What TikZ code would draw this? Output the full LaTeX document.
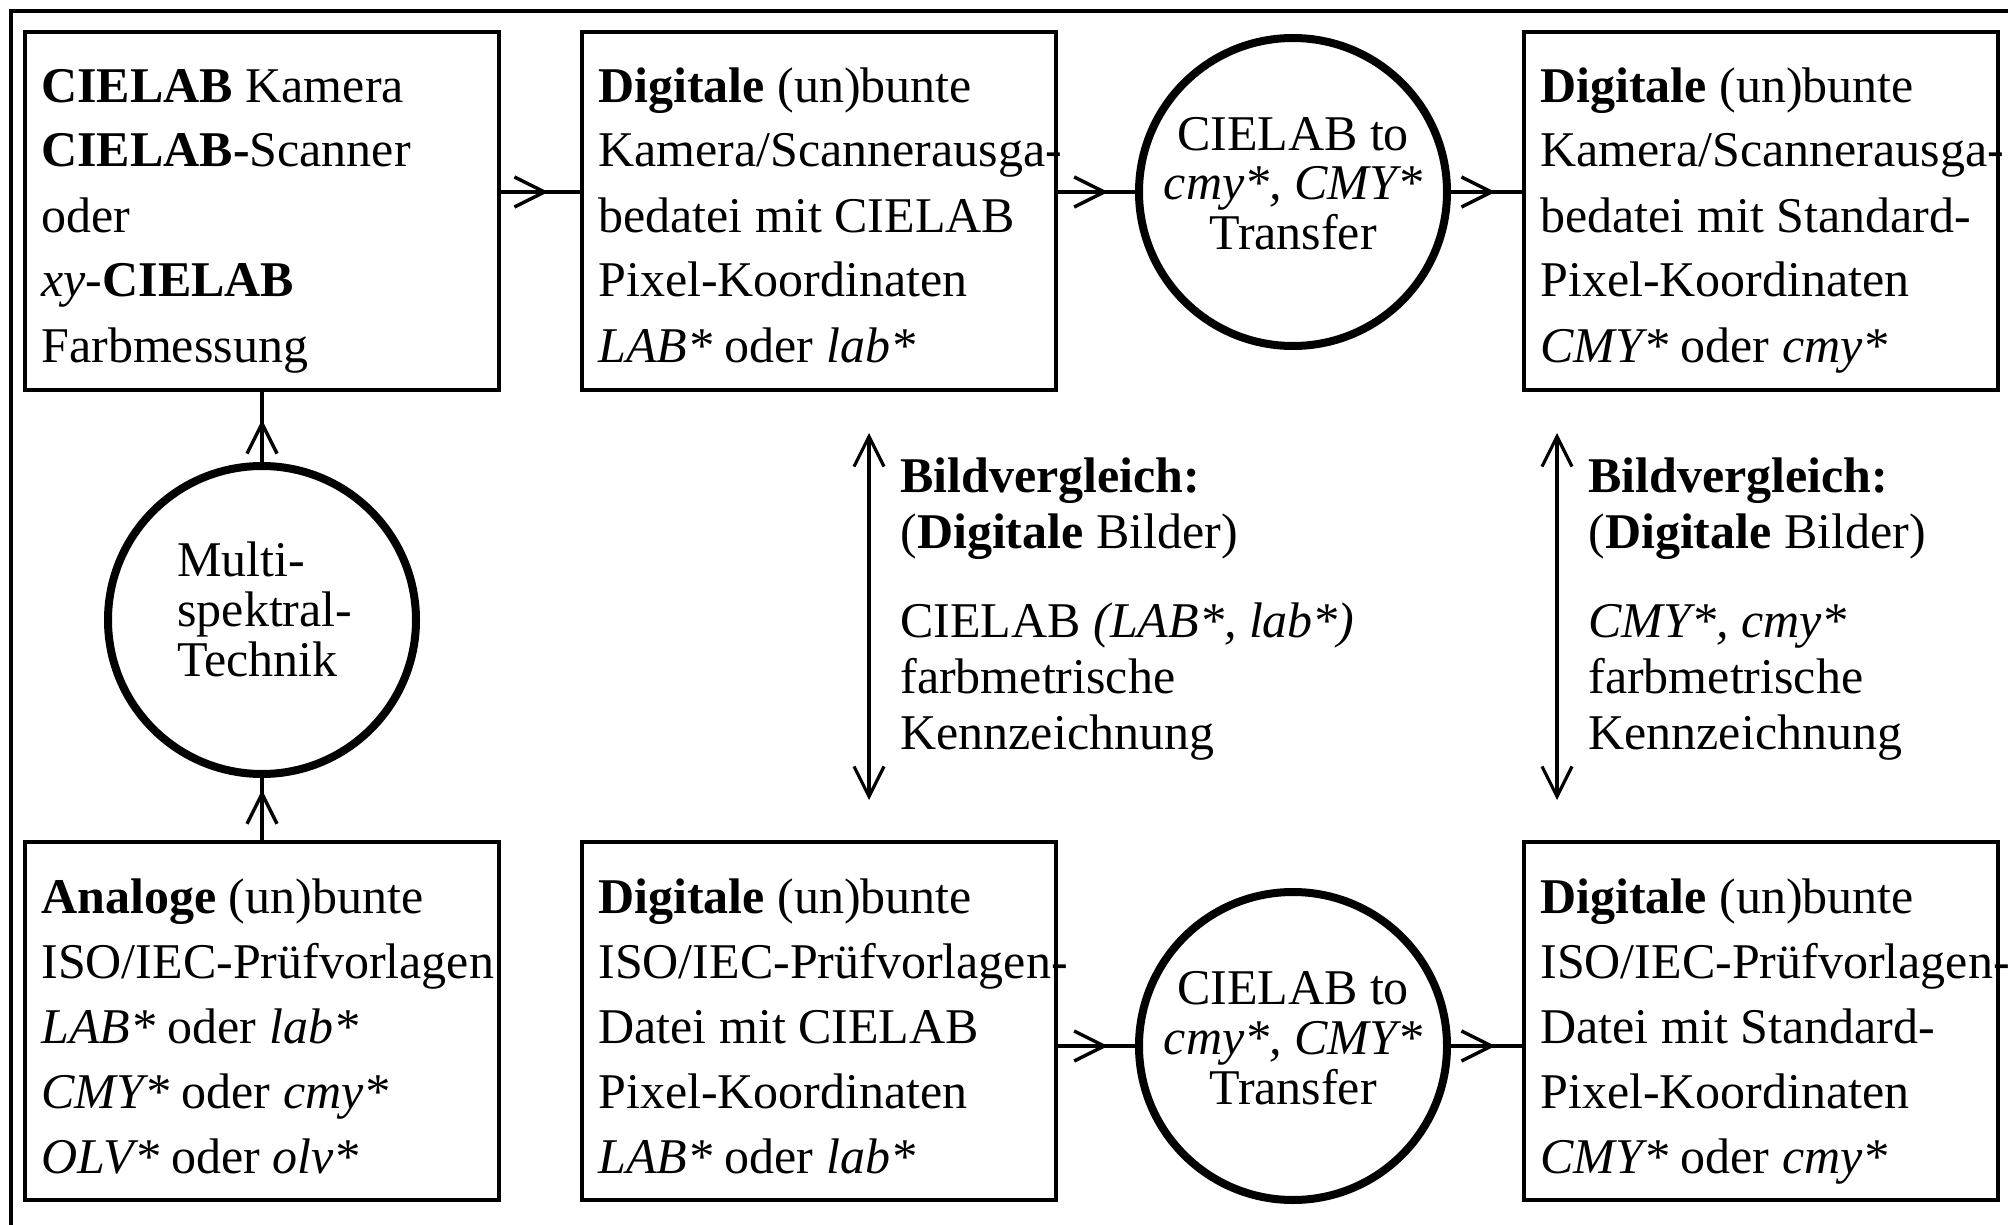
\documentclass[tikz,border=0pt]{standalone}
\usepackage{fontspec}
\setmainfont{Liberation Serif}
\usetikzlibrary{arrows.meta,decorations.markings}
\begin{document}
\begin{tikzpicture}[x=0.5pt,y=-0.5pt,
  >={Straight Barb[length=15pt,width=15pt]},
  box/.style={draw, line width=1.75pt, minimum width=237pt, minimum height=179pt, inner sep=0pt},
  ring/.style={circle, draw, line width=4pt, minimum size=154pt, inner sep=0pt},
  % text nodes are placed by the baseline of their last line
  boxtext/.style={anchor=base west, align=left, inner sep=0pt, font=\fontsize{25pt}{32.5pt}\selectfont},
  ringtext/.style={anchor=base, align=center, inner sep=0pt, font=\fontsize{25pt}{25pt}\selectfont},
  ringleft/.style={anchor=base west, align=left, inner sep=0pt, font=\fontsize{25pt}{25pt}\selectfont},
  note/.style={anchor=base west, align=left, inner sep=0pt, font=\fontsize{25pt}{28pt}\selectfont},
  link/.style={line width=1.7pt},
  tipat/.style={decoration={markings, mark=at position -#1 with {\arrow{>}}}, postaction={decorate}},
  both/.style={line width=1.6pt, <->},
]
\useasboundingbox (0,0) rectangle (2008,1225);

% outer frame (top and left edges)
\draw[line width=2pt] (2008,11) -- (11,11) -- (11,1225);

% boxes
\node[box] (tl) at (262,211) {};
\node[box] (tm) at (819,211) {};
\node[box] (tr) at (1761,211) {};
\node[box] (bl) at (262,1021) {};
\node[box] (bm) at (819,1021) {};
\node[box] (br) at (1761,1021) {};

% circles
\node[ring] (c0) at (262,620) {};
\node[ring] (c1) at (1293,192) {};
\node[ring] (c2) at (1293,1046) {};

% box texts
\node[boxtext] (tl-t) at (41,362) {\textbf{CIELAB} Kamera\\\textbf{CIELAB-}Scanner\\oder\\\textit{xy}-\textbf{CIELAB}\\Farbmessung};
\node[boxtext] (tm-t) at (598,362) {\textbf{Digitale} (un)bunte\\Kamera/Scannerausga-\\bedatei mit CIELAB\\Pixel-Koordinaten\\\textit{LAB*} oder \textit{lab*}};
\node[boxtext] (tr-t) at (1540,362) {\textbf{Digitale} (un)bunte\\Kamera/Scannerausga-\\bedatei mit Standard-\\Pixel-Koordinaten\\\textit{CMY*} oder \textit{cmy*}};
\node[boxtext] (bl-t) at (41,1173) {\textbf{Analoge} (un)bunte\\ISO/IEC-Prüfvorlagen\\\textit{LAB*} oder \textit{lab*}\\\textit{CMY*} oder \textit{cmy*}\\\textit{OLV*} oder \textit{olv*}};
\node[boxtext] (bm-t) at (598,1173) {\textbf{Digitale} (un)bunte\\ISO/IEC-Prüfvorlagen-\\Datei mit CIELAB\\Pixel-Koordinaten\\\textit{LAB*} oder \textit{lab*}};
\node[boxtext] (br-t) at (1540,1173) {\textbf{Digitale} (un)bunte\\ISO/IEC-Prüfvorlagen-\\Datei mit Standard-\\Pixel-Koordinaten\\\textit{CMY*} oder \textit{cmy*}};

% circle texts
\node[ringleft] (c0-t) at (177,676) {Multi-\\spektral-\\Technik};
\node[ringtext] (c1-t) at (1293,250) {CIELAB to\\\textit{cmy*, CMY*}\\Transfer};
\node[ringtext] (c2-t) at (1293,1104) {CIELAB to\\\textit{cmy*, CMY*}\\Transfer};

% comparison notes
\node[note] (n1) at (900,749) {\textbf{Bildvergleich:}\\(\textbf{Digitale} Bilder)\\[16.5pt]CIELAB \textit{(LAB*, lab*)}\\farbmetrische\\Kennzeichnung};
\node[note] (n2) at (1588,749) {\textbf{Bildvergleich:}\\(\textbf{Digitale} Bilder)\\[16.5pt]\textit{CMY*, cmy*}\\farbmetrische\\Kennzeichnung};

% double arrows
\coordinate (d1t) at (869,433);
\coordinate (d1b) at (869,800);
\coordinate (d2t) at (1557,433);
\coordinate (d2b) at (1557,800);
\draw[both] (d1t) -- (d1b);
\draw[both] (d2t) -- (d2b);

% flow connectors
\draw[link, tipat=6pt] (bl.north) -- (c0.south);
\draw[link, tipat=14pt] (c0.north) -- (tl.south);
\draw[link, tipat=16pt] (tl.east |- c1) -- (tm.west |- c1);
\draw[link, tipat=13.5pt] (tm.east |- c1) -- (c1.west);
\draw[link, tipat=13.5pt] (c1.east) -- (tr.west |- c1);
\draw[link, tipat=13.5pt] (bm.east |- c2) -- (c2.west);
\draw[link, tipat=13.5pt] (c2.east) -- (br.west |- c2);
\end{tikzpicture}
\end{document}
